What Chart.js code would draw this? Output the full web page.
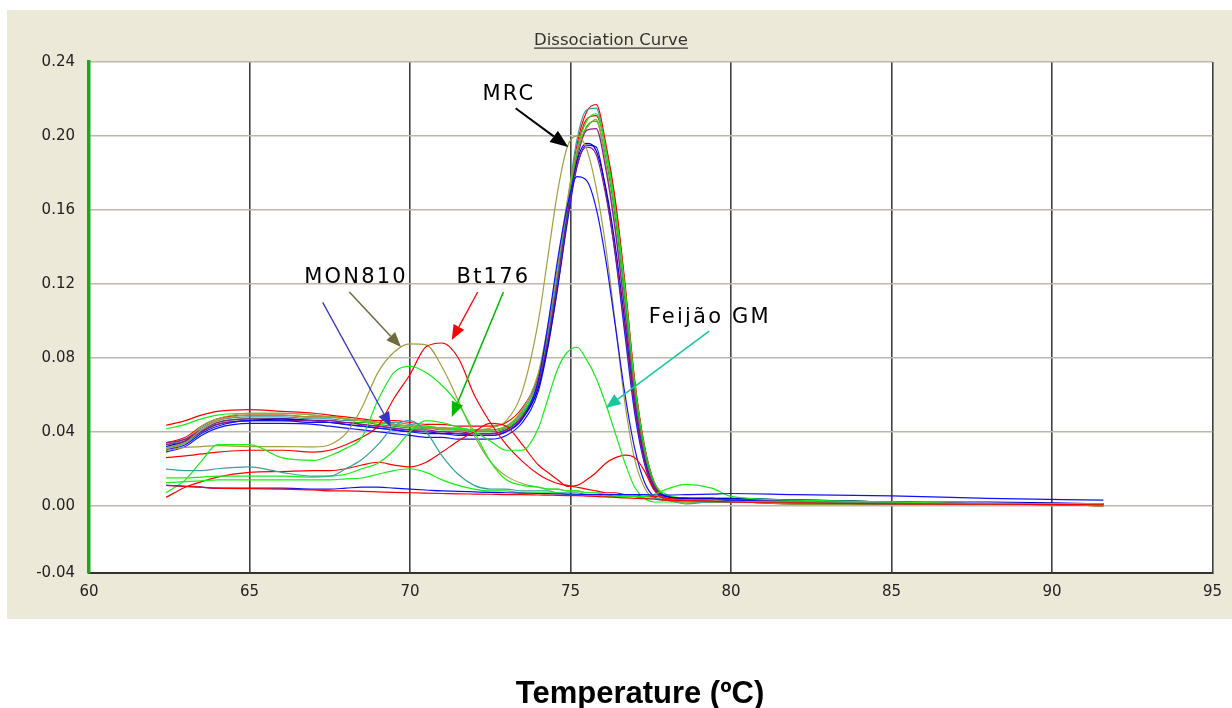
<!DOCTYPE html>
<html>
<head>
<meta charset="utf-8">
<title>Dissociation Curve</title>
<script src="https://cdn.jsdelivr.net/npm/chart.js@4.4.1/dist/chart.umd.min.js"></script>
<style>
  html, body { margin: 0; padding: 0; background: #fff; }
  #wrap { position: relative; width: 1232px; height: 708px; }
</style>
</head>
<body>
<div id="wrap"><canvas id="meltChart" width="1232" height="708"></canvas></div>
<script>
// temperature readings (ºC) shared by every well
var temps = [62.4, 63, 63.5, 64, 65, 66, 67, 67.5, 68, 68.5,
	69, 69.5, 70, 70.5, 71, 71.5, 72, 72.5, 73, 73.5,
	74, 74.3, 74.6, 74.9, 75.2, 75.5, 75.8, 76.1, 76.4, 76.7,
	77, 77.3, 77.6, 78, 78.6, 79.4, 80, 82, 85, 88,
	91.6];

// MRC wells (main peak ~75.5)
var mrcRed1 = [0.0435, 0.046, 0.049, 0.051, 0.052, 0.051, 0.050, 0.049, 0.048, 0.047,
	0.046, 0.046, 0.045, 0.044, 0.044, 0.043, 0.043, 0.043, 0.045, 0.053,
	0.070, 0.095, 0.125, 0.160, 0.195, 0.213, 0.217, 0.196, 0.165, 0.120,
	0.068, 0.033, 0.013, 0.005, 0.004, 0.004, 0.003, 0.003, 0.002, 0.001,
	0.001];
var mrcTeal = [0.033, 0.036, 0.042, 0.046, 0.048, 0.048, 0.047, 0.047, 0.046, 0.046,
	0.045, 0.045, 0.044, 0.043, 0.042, 0.042, 0.041, 0.041, 0.043, 0.051,
	0.069, 0.094, 0.126, 0.163, 0.198, 0.214, 0.215, 0.192, 0.160, 0.114,
	0.063, 0.030, 0.012, 0.004, 0.003, 0.004, 0.004, 0.003, 0.002, 0.001,
	0.001];
var mrcGreen1 = [0.0415, 0.044, 0.047, 0.049, 0.050, 0.050, 0.049, 0.048, 0.047, 0.046,
	0.045, 0.044, 0.043, 0.043, 0.042, 0.042, 0.041, 0.041, 0.043, 0.050,
	0.067, 0.090, 0.120, 0.158, 0.192, 0.208, 0.212, 0.193, 0.160, 0.117,
	0.066, 0.032, 0.013, 0.006, 0.004, 0.003, 0.003, 0.002, 0.002, 0.001,
	0.001];
var mrcGreen2 = [0.031, 0.034, 0.040, 0.045, 0.047, 0.047, 0.046, 0.046, 0.045, 0.045,
	0.044, 0.043, 0.042, 0.042, 0.041, 0.041, 0.040, 0.040, 0.042, 0.049,
	0.066, 0.090, 0.122, 0.158, 0.190, 0.205, 0.208, 0.188, 0.155, 0.110,
	0.062, 0.030, 0.012, 0.005, 0.004, 0.004, 0.003, 0.003, 0.002, 0.001,
	0.001];
var mrcOlive1 = [0.031, 0.035, 0.043, 0.047, 0.050, 0.050, 0.049, 0.048, 0.047, 0.046,
	0.045, 0.044, 0.043, 0.042, 0.042, 0.041, 0.041, 0.041, 0.043, 0.052,
	0.072, 0.098, 0.130, 0.165, 0.192, 0.204, 0.209, 0.185, 0.150, 0.105,
	0.058, 0.027, 0.010, 0.004, 0.003, 0.003, 0.003, 0.002, 0.002, 0.001,
	0.001];
var mrcPurple1 = [0.034, 0.036, 0.041, 0.045, 0.047, 0.047, 0.046, 0.046, 0.045, 0.044,
	0.043, 0.042, 0.041, 0.041, 0.040, 0.040, 0.039, 0.039, 0.041, 0.048,
	0.064, 0.087, 0.118, 0.155, 0.187, 0.203, 0.204, 0.182, 0.148, 0.104,
	0.058, 0.027, 0.011, 0.005, 0.004, 0.003, 0.003, 0.003, 0.002, 0.001,
	0.001];
var mrcBlue1 = [0.029, 0.032, 0.038, 0.042, 0.0445, 0.0445, 0.044, 0.043, 0.042, 0.041,
	0.040, 0.039, 0.038, 0.037, 0.037, 0.036, 0.036, 0.036, 0.038, 0.045,
	0.062, 0.086, 0.118, 0.153, 0.183, 0.195, 0.194, 0.170, 0.135, 0.092,
	0.050, 0.023, 0.009, 0.005, 0.004, 0.004, 0.003, 0.003, 0.002, 0.001,
	0.001];
var mrcBlue2 = [0.032, 0.035, 0.040, 0.044, 0.046, 0.047, 0.046, 0.045, 0.044, 0.043,
	0.042, 0.041, 0.040, 0.040, 0.039, 0.039, 0.038, 0.038, 0.040, 0.047,
	0.064, 0.088, 0.120, 0.156, 0.186, 0.196, 0.192, 0.172, 0.140, 0.098,
	0.054, 0.025, 0.010, 0.005, 0.004, 0.004, 0.004, 0.003, 0.002, 0.002,
	0.001];
var mrcPurple2 = [0.033, 0.035, 0.040, 0.044, 0.046, 0.046, 0.046, 0.045, 0.045, 0.044,
	0.043, 0.042, 0.041, 0.040, 0.040, 0.039, 0.039, 0.039, 0.041, 0.048,
	0.066, 0.090, 0.121, 0.156, 0.184, 0.194, 0.190, 0.168, 0.136, 0.095,
	0.053, 0.024, 0.010, 0.004, 0.003, 0.003, 0.003, 0.002, 0.001, 0.001,
	0.001];
var mrcOlive2 = [0.030, 0.034, 0.041, 0.046, 0.049, 0.049, 0.048, 0.048, 0.047, 0.046,
	0.045, 0.044, 0.043, 0.042, 0.042, 0.041, 0.041, 0.042, 0.046, 0.062,
	0.100, 0.135, 0.170, 0.194, 0.200, 0.193, 0.172, 0.140, 0.098, 0.055,
	0.025, 0.010, 0.004, 0.003, 0.003, 0.003, 0.003, 0.002, 0.002, 0.001,
	0.001];
var mrcBlue3 = [0.030, 0.033, 0.039, 0.043, 0.046, 0.046, 0.045, 0.045, 0.044, 0.043,
	0.042, 0.041, 0.040, 0.039, 0.039, 0.038, 0.038, 0.038, 0.040, 0.047,
	0.068, 0.098, 0.133, 0.162, 0.178, 0.176, 0.161, 0.133, 0.097, 0.060,
	0.031, 0.013, 0.005, 0.003, 0.003, 0.003, 0.003, 0.002, 0.002, 0.001,
	0.001];
var mrcRed2 = [0.034, 0.037, 0.043, 0.047, 0.049, 0.049, 0.048, 0.048, 0.047, 0.046,
	0.045, 0.044, 0.043, 0.042, 0.042, 0.041, 0.041, 0.041, 0.043, 0.050,
	0.066, 0.090, 0.121, 0.158, 0.192, 0.209, 0.211, 0.194, 0.163, 0.118,
	0.067, 0.032, 0.013, 0.005, 0.004, 0.003, 0.003, 0.002, 0.001, 0.001,
	0.000];

// event-specific wells
var mon810Olive = [0.030, 0.0315, 0.032, 0.0325, 0.032, 0.032, 0.0318, 0.033, 0.039, 0.053,
	0.072, 0.083, 0.0875, 0.087, 0.075, 0.057, 0.038, 0.024, 0.016, 0.012,
	0.010, 0.009, 0.009, 0.008, 0.008, 0.007, 0.007, 0.006, 0.006, 0.005,
	0.005, 0.004, 0.004, 0.003, 0.003, 0.003, 0.002, 0.002, 0.002, 0.001,
	0.001];
var mon810Green = [0.007, 0.014, 0.024, 0.033, 0.033, 0.026, 0.0245, 0.027, 0.031, 0.037,
	0.057, 0.072, 0.0755, 0.072, 0.065, 0.055, 0.040, 0.024, 0.014, 0.011,
	0.010, 0.009, 0.009, 0.008, 0.008, 0.007, 0.007, 0.006, 0.006, 0.005,
	0.005, 0.004, 0.004, 0.003, 0.003, 0.002, 0.002, 0.002, 0.001, 0.001,
	0.001];
var bt176Red = [0.026, 0.027, 0.028, 0.029, 0.030, 0.030, 0.029, 0.030, 0.033, 0.037,
	0.043, 0.058, 0.071, 0.086, 0.088, 0.080, 0.060, 0.045, 0.033, 0.024,
	0.017, 0.014, 0.012, 0.011, 0.010, 0.009, 0.008, 0.007, 0.007, 0.006,
	0.006, 0.005, 0.005, 0.004, 0.003, 0.002, 0.002, 0.001, 0.001, 0.001,
	0.000];
var redSecond = [0.0045, 0.010, 0.013, 0.0155, 0.018, 0.0185, 0.019, 0.019, 0.020, 0.022,
	0.0235, 0.022, 0.021, 0.0235, 0.029, 0.035, 0.040, 0.0445, 0.043, 0.033,
	0.022, 0.018, 0.014, 0.0105, 0.011, 0.014, 0.018, 0.023, 0.026, 0.0274,
	0.026, 0.019, 0.0085, 0.003, 0.002, 0.002, 0.002, 0.001, 0.001, 0.001,
	0.000];
var tealSecond = [0.0198, 0.019, 0.019, 0.020, 0.021, 0.018, 0.016, 0.016, 0.020, 0.025,
	0.033, 0.043, 0.046, 0.040, 0.027, 0.017, 0.011, 0.009, 0.009, 0.008,
	0.008, 0.008, 0.007, 0.007, 0.007, 0.006, 0.006, 0.006, 0.005, 0.005,
	0.005, 0.004, 0.004, 0.003, 0.001, 0.002, 0.002, 0.002, 0.001, 0.001,
	0.001];
var feijaoGreen = [0.015, 0.015, 0.0155, 0.016, 0.016, 0.016, 0.0155, 0.016, 0.017, 0.020,
	0.023, 0.030, 0.040, 0.046, 0.045, 0.0425, 0.040, 0.035, 0.030, 0.030,
	0.042, 0.058, 0.074, 0.083, 0.0857, 0.079, 0.069, 0.055, 0.039, 0.023,
	0.010, 0.004, 0.002, 0.002, 0.002, 0.002, 0.002, 0.001, 0.001, 0.001,
	0.000];
var lowGreen = [0.0125, 0.013, 0.0135, 0.014, 0.014, 0.014, 0.014, 0.014, 0.0145, 0.015,
	0.017, 0.019, 0.020, 0.018, 0.014, 0.011, 0.009, 0.008, 0.008, 0.007,
	0.007, 0.007, 0.007, 0.006, 0.006, 0.006, 0.006, 0.005, 0.005, 0.005,
	0.005, 0.005, 0.006, 0.009, 0.0115, 0.0095, 0.005, 0.003, 0.002, 0.001,
	0.001];
var lowBlue = [0.011, 0.0105, 0.010, 0.0095, 0.0095, 0.0095, 0.009, 0.009, 0.0095, 0.010,
	0.010, 0.0095, 0.009, 0.0085, 0.008, 0.0078, 0.0075, 0.0072, 0.007, 0.0068,
	0.0066, 0.0065, 0.0064, 0.0063, 0.0062, 0.006, 0.006, 0.006, 0.006, 0.006,
	0.006, 0.006, 0.0058, 0.0058, 0.006, 0.0063, 0.0066, 0.006, 0.0053, 0.004,
	0.003];
var lowRed = [0.011, 0.0105, 0.010, 0.0095, 0.0092, 0.009, 0.0085, 0.008, 0.008, 0.0078,
	0.0075, 0.0072, 0.007, 0.0068, 0.0066, 0.0064, 0.0063, 0.0062, 0.006, 0.006,
	0.0058, 0.0057, 0.0056, 0.0055, 0.0054, 0.0052, 0.005, 0.0048, 0.0045, 0.0042,
	0.004, 0.0038, 0.0035, 0.003, 0.0028, 0.0025, 0.002, 0.0015, 0.001, 0.0008,
	0.0005];

// axis ticks
var xTicks = [60, 65, 70, 75, 80, 85, 90, 95];
var yTicks = [-0.04, 0, 0.04, 0.08, 0.12, 0.16, 0.20, 0.24];
var yTickLabels = ['-0.04', '0.00', '0.04', '0.08', '0.12', '0.16', '0.20', '0.24'];

// colours of the instrument software
var RED = '#FF0000', LIME = '#14F014', BLUE = '#1010FF', OLIVE = '#A39E3E',
	PURPLE = '#8E1C8E', TEAL = '#3A9EA0', GREEN = '#00C400';

var wells = [
	[lowRed, RED], [lowBlue, BLUE], [lowGreen, LIME], [tealSecond, TEAL],
	[feijaoGreen, LIME], [redSecond, RED], [mon810Green, LIME], [bt176Red, RED],
	[mon810Olive, OLIVE],
	[mrcBlue3, BLUE], [mrcOlive2, OLIVE], [mrcPurple2, PURPLE], [mrcBlue2, '#0000C8'],
	[mrcBlue1, BLUE], [mrcPurple1, PURPLE], [mrcOlive1, OLIVE], [mrcGreen2, GREEN],
	[mrcGreen1, LIME], [mrcTeal, TEAL], [mrcRed2, RED], [mrcRed1, RED]
];

// annotations, placed in data units (ºC, derivative)
var notes = [
	{ text: 'MRC', t: 73.08, v: 0.2194 },
	{ text: 'MON810', t: 68.32, v: 0.1204 },
	{ text: 'Bt176', t: 72.60, v: 0.1204 },
	{ text: 'Feijão GM', t: 79.34, v: 0.0988 }
];
var arrows = [
	{ from: [73.29, 0.215], to: [74.93, 0.194], color: '#000000', w: 2, len: 18, half: 7 },
	{ from: [68.11, 0.1156], to: [69.72, 0.0858], color: '#6E6B3C', w: 1.5, len: 15, half: 6 },
	{ from: [67.28, 0.110], to: [69.41, 0.0426], color: '#3434CC', w: 1.3, len: 15, half: 6 },
	{ from: [72.11, 0.1156], to: [71.30, 0.0896], color: '#FF0000', w: 1.3, len: 15, half: 6 },
	{ from: [72.91, 0.1156], to: [71.30, 0.0480], color: '#00B800', w: 1.5, len: 15, half: 6 },
	{ from: [79.32, 0.0944], to: [76.10, 0.0528], color: '#18C89C', w: 1.5, len: 15, half: 6 }
];

function drawArrow(ctx, x1, y1, x2, y2, a) {
	var ang = Math.atan2(y2 - y1, x2 - x1);
	var bx = x2 - a.len * Math.cos(ang), by = y2 - a.len * Math.sin(ang);
	ctx.strokeStyle = a.color;
	ctx.fillStyle = a.color;
	ctx.lineWidth = a.w;
	ctx.beginPath();
	ctx.moveTo(x1, y1);
	ctx.lineTo(bx, by);
	ctx.stroke();
	ctx.beginPath();
	ctx.moveTo(x2, y2);
	ctx.lineTo(bx + a.half * Math.sin(ang), by - a.half * Math.cos(ang));
	ctx.lineTo(bx - a.half * Math.sin(ang), by + a.half * Math.cos(ang));
	ctx.closePath();
	ctx.fill();
}

var panelPlugin = {
	id: 'panel',
	beforeDraw: function (chart) {
		var ctx = chart.ctx, a = chart.chartArea;
		ctx.save();
		ctx.fillStyle = '#ffffff';
		ctx.fillRect(0, 0, chart.width, chart.height);
		ctx.fillStyle = '#ECE9D8';
		ctx.fillRect(7, 10, chart.width - 7, 609);
		ctx.fillStyle = '#ffffff';
		ctx.fillRect(a.left, a.top, a.right - a.left, a.bottom - a.top);
		ctx.restore();
	},
	afterDatasetsDraw: function (chart) {
		var ctx = chart.ctx, xs = chart.scales.x, ys = chart.scales.y;
		ctx.save();
		arrows.forEach(function (a) {
			drawArrow(ctx, xs.getPixelForValue(a.from[0]), ys.getPixelForValue(a.from[1]),
				xs.getPixelForValue(a.to[0]), ys.getPixelForValue(a.to[1]), a);
		});
		ctx.fillStyle = '#000000';
		ctx.font = '21px "DejaVu Sans"';
		ctx.letterSpacing = '2.2px';
		ctx.textAlign = 'center';
		ctx.textBaseline = 'alphabetic';
		notes.forEach(function (n) {
			ctx.fillText(n.text, xs.getPixelForValue(n.t), ys.getPixelForValue(n.v));
		});
		ctx.restore();
	},
	afterDraw: function (chart) {
		var ctx = chart.ctx;
		ctx.save();
		// title with underline
		ctx.font = '16.5px "DejaVu Sans"';
		ctx.fillStyle = '#333333';
		ctx.textAlign = 'center';
		ctx.textBaseline = 'alphabetic';
		var title = 'Dissociation Curve';
		ctx.fillText(title, 611, 45);
		var tw = ctx.measureText(title).width;
		ctx.fillRect(611 - tw / 2, 47.5, tw, 1.2);
		// x axis caption
		ctx.font = 'bold 31px "Liberation Sans", Arial, sans-serif';
		ctx.fillStyle = '#000000';
		ctx.fillText('Temperature (ºC)', 640, 703);
		ctx.restore();
	}
};

Chart.defaults.font.family = '"DejaVu Sans", sans-serif';

var ctx = document.getElementById('meltChart');
var meltChart = new Chart(ctx, {
	type: 'line',
	data: {
		datasets: wells.map(function (w) {
			return {
				data: temps.map(function (t, i) { return { x: t, y: w[0][i] }; }),
				borderColor: w[1],
				borderWidth: 1.2,
				pointRadius: 0,
				fill: false,
				cubicInterpolationMode: 'monotone'
			};
		})
	},
	options: {
		responsive: false,
		animation: false,
		devicePixelRatio: 1,
		layout: { padding: { top: 62, right: 14, bottom: 0, left: 0 } },
		plugins: {
			legend: { display: false },
			tooltip: { enabled: false }
		},
		scales: {
			x: {
				type: 'linear',
				min: 60,
				max: 95,
				afterBuildTicks: function (scale) {
					scale.ticks = xTicks.map(function (v) { return { value: v }; });
				},
				afterFit: function (scale) { scale.height = 135; },
				ticks: {
					color: '#222222',
					font: { size: 15 },
					padding: 10,
					maxRotation: 0,
					callback: function (v) { return String(v); }
				},
				grid: { color: '#404040', lineWidth: 1.6, drawTicks: false },
				border: { color: '#333333', width: 2 }
			},
			y: {
				min: -0.0364,
				max: 0.24,
				afterBuildTicks: function (scale) {
					scale.ticks = yTicks.map(function (v) { return { value: Math.max(v, scale.min) }; });
				},
				afterFit: function (scale) { scale.width = 89; },
				ticks: {
					color: '#222222',
					font: { size: 15 },
					padding: 14,
					callback: function (v, i) { return yTickLabels[i]; }
				},
				grid: { color: '#BDB8AC', lineWidth: 1.6, drawTicks: false },
				border: { color: '#22A322', width: 3.5 }
			}
		}
	},
	plugins: [panelPlugin]
});
</script>
</body>
</html>
